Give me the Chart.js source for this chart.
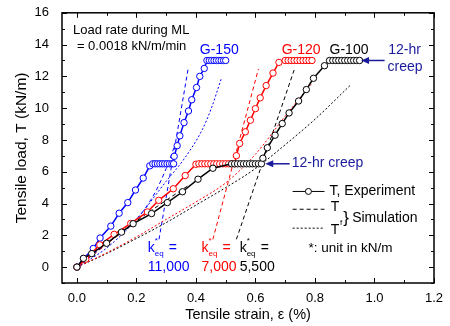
<!DOCTYPE html>
<html>
<head>
<meta charset="utf-8">
<script src="https://cdn.jsdelivr.net/npm/chart.js@4"></script>
<style>
  html, body { margin: 0; padding: 0; background: #fff; }
  #wrap { width: 450px; height: 326px; }
</style>
</head>
<body>
<div id="wrap"><canvas id="grafico" width="450" height="326"></canvas></div>
<script>
// tick labels
const xTickVals = [0, 0.2, 0.4, 0.6, 0.8, 1.0, 1.2];
const yTickVals = [0, 2, 4, 6, 8, 10, 12, 14, 16];

// G-150 experiment
const g150X = [0, 0.023, 0.055, 0.078, 0.114, 0.142, 0.171, 0.197, 0.223, 0.245, 0.255, 0.263, 0.271, 0.279, 0.287, 0.295, 0.303, 0.311, 0.319, 0.325,
  0.327, 0.337, 0.346, 0.36, 0.375, 0.386, 0.402, 0.413, 0.428, 0.437, 0.445, 0.453, 0.461, 0.469, 0.477, 0.485, 0.493, 0.5];
const g150Y = [0, 0.54, 1.17, 1.83, 2.58, 3.39, 4.06, 4.85, 5.6, 6.37, 6.5, 6.5, 6.5, 6.5, 6.5, 6.5, 6.5, 6.5, 6.5, 6.5,
  6.97, 7.64, 8.26, 9.09, 9.82, 10.53, 11.3, 12.0, 12.5, 13, 13, 13, 13, 13, 13, 13, 13, 13];
// G-120 experiment
const g120X = [0, 0.03, 0.077, 0.125, 0.181, 0.237, 0.275, 0.324, 0.364, 0.4, 0.41, 0.42, 0.43, 0.44, 0.45, 0.46, 0.47, 0.48, 0.49, 0.5, 0.51, 0.52, 0.53,
  0.536, 0.547, 0.566, 0.583, 0.6, 0.616, 0.636, 0.659, 0.679, 0.7, 0.71, 0.72, 0.73, 0.74, 0.75, 0.76, 0.77, 0.78, 0.79];
const g120Y = [0, 0.5, 1.4, 2.06, 2.75, 3.47, 4.2, 4.93, 5.76, 6.47, 6.5, 6.5, 6.5, 6.5, 6.5, 6.5, 6.5, 6.5, 6.5, 6.5, 6.5, 6.5, 6.5,
  7.01, 7.78, 8.51, 9.24, 9.97, 10.65, 11.42, 12.21, 12.88, 13, 13, 13, 13, 13, 13, 13, 13, 13, 13];
// G-100 experiment
const g100X = [0, 0.022, 0.05, 0.1, 0.15, 0.189, 0.251, 0.304, 0.355, 0.407, 0.457, 0.52, 0.53, 0.54, 0.55, 0.56, 0.57, 0.58, 0.59, 0.6, 0.61, 0.62,
  0.625, 0.64, 0.666, 0.69, 0.713, 0.745, 0.771, 0.795, 0.832, 0.849, 0.86, 0.87, 0.88, 0.89, 0.9, 0.91, 0.92, 0.93, 0.94, 0.95];
const g100Y = [0, 0.55, 0.85, 1.5, 2.2, 2.73, 3.37, 4.06, 4.74, 5.53, 6.22, 6.5, 6.5, 6.5, 6.5, 6.5, 6.5, 6.5, 6.5, 6.5, 6.5, 6.5,
  6.85, 7.51, 8.3, 9.03, 9.7, 10.45, 11.17, 11.88, 12.67, 13, 13, 13, 13, 13, 13, 13, 13, 13, 13, 13];

// simulation T (dashed)
const simT150X = [0, 0.1, 0.2, 0.26, 0.3, 0.33];
const simT150Y = [0, 1.5, 3.0, 4.6, 6.2, 7.7];
const simT120X = [0, 0.1, 0.2];
const simT120Y = [0, 1.45, 2.9];
const simT100X = [0, 0.1, 0.2, 0.3, 0.38];
const simT100Y = [0, 1.45, 2.9, 4.2, 5.2];
// k_eq lines (dashed)
const keq150X = [0.276, 0.374];
const keq150Y = [1.75, 12.5];
const keq120X = [0.457, 0.61];
const keq120Y = [1.75, 12.46];
const keq100X = [0.536, 0.73];
const keq100Y = [1.75, 12.4];
// simulation T^f (dotted)
const tf150X = [0, 0.1, 0.2, 0.3, 0.36, 0.42, 0.45, 0.486];
const tf150Y = [0, 1.2, 3.0, 5.4, 6.8, 8.6, 9.9, 11.9];
const tf120X = [0, 0.1, 0.2, 0.3, 0.4, 0.5, 0.6, 0.7, 0.787];
const tf120Y = [0, 0.9, 1.9, 3.0, 4.1, 5.3, 7.1, 9.5, 11.5];
const tf100X = [0, 0.1, 0.2, 0.3, 0.4, 0.5, 0.6, 0.7, 0.8, 0.922];
const tf100Y = [0, 0.85, 1.8, 2.8, 3.9, 5.0, 6.2, 7.7, 9.3, 11.5];

const azul = '#0000ff';
const rojo = '#ff0000';
const negro = '#000000';
const marino = '#1a1a9c';
const fuente = 'Arial, "Liberation Sans", sans-serif';

const pares = (xs, ys) => xs.map((v, i) => ({ x: v, y: ys[i] }));

function experimento(xs, ys, color) {
    return {
        data: pares(xs, ys), borderColor: color, borderWidth: 1.5,
        pointRadius: 3.2, pointBorderWidth: 1, pointBackgroundColor: '#fff', pointBorderColor: color,
        showLine: true, order: 1
    };
}
function simulado(xs, ys, color, dash, curva) {
    return {
        data: pares(xs, ys), borderColor: color, borderWidth: 1, borderDash: dash,
        pointRadius: 0, showLine: true, order: 2,
        cubicInterpolationMode: curva ? 'monotone' : 'default'
    };
}

const datasets = [
    simulado(tf150X, tf150Y, azul, [2, 2], true),
    simulado(tf120X, tf120Y, rojo, [2, 2], true),
    simulado(tf100X, tf100Y, negro, [2, 2], true),
    simulado(simT150X, simT150Y, azul, [4, 3], true),
    simulado(simT120X, simT120Y, rojo, [4, 3], false),
    simulado(simT100X, simT100Y, negro, [4, 3], true),
    simulado(keq150X, keq150Y, azul, [4, 3], false),
    simulado(keq120X, keq120Y, rojo, [4, 3], false),
    simulado(keq100X, keq100Y, negro, [4, 3], false),
    experimento(g100X, g100Y, negro),
    experimento(g120X, g120Y, rojo),
    experimento(g150X, g150Y, azul)
];

// frame, inward ticks, annotations and legend
const decoracion = {
    id: 'decoracion',
    afterDatasetsDraw(chart) {
        const { ctx, chartArea: a, scales: { x, y } } = chart;
        const px = v => x.getPixelForValue(v);
        const py = v => y.getPixelForValue(v);
        ctx.save();
        ctx.strokeStyle = '#000';
        ctx.lineWidth = 1.5;
        ctx.strokeRect(a.left, a.top, a.right - a.left, a.bottom - a.top);
        ctx.lineWidth = 1;
        ctx.beginPath();
        for (let i = 0; i <= 12; i++) {
            const len = i % 2 === 0 ? 5 : 3;
            const p = Math.round(px(i / 10)) + 0.5;
            ctx.moveTo(p, a.bottom); ctx.lineTo(p, a.bottom - len);
            ctx.moveTo(p, a.top); ctx.lineTo(p, a.top + len);
        }
        for (let v = -1; v <= 16; v += 1) {
            const len = v % 2 === 0 ? 5 : 3;
            const p = Math.round(py(v)) + 0.5;
            ctx.moveTo(a.left, p); ctx.lineTo(a.left + len, p);
            ctx.moveTo(a.right, p); ctx.lineTo(a.right - len, p);
        }
        ctx.stroke();

        ctx.textBaseline = 'middle';
        const texto = (s, dx, dy, color, size, align) => {
            ctx.fillStyle = color;
            ctx.font = size + 'px ' + fuente;
            ctx.textAlign = align || 'left';
            ctx.fillText(s, px(dx), py(dy));
            return ctx.measureText(s).width;
        };
        const flecha = (x1, y1, x2, y2) => {
            const ax = px(x1), ay = py(y1), bx = px(x2), by = py(y2);
            ctx.strokeStyle = marino; ctx.fillStyle = marino; ctx.lineWidth = 1.5;
            ctx.beginPath(); ctx.moveTo(ax, ay); ctx.lineTo(bx + 6, by); ctx.stroke();
            ctx.beginPath(); ctx.moveTo(bx, by); ctx.lineTo(bx + 8, by - 3.5); ctx.lineTo(bx + 8, by + 3.5); ctx.closePath(); ctx.fill();
        };
        const keq = (dx, color, valor) => {
            const w = texto('k', dx, 1.2, color, 14);
            const x0 = px(dx) + w;
            ctx.font = '8px ' + fuente;
            ctx.fillText('*', x0, py(1.2) - 7);
            ctx.fillText('eq', x0, py(1.2) + 6);
            ctx.font = '14px ' + fuente;
            ctx.fillText('=', x0 + 14, py(1.2));
            texto(valor, dx, 0, color, 14);
        };

        texto('Load rate during ML', -0.013, 14.87, '#000', 13);
        texto('= 0.0018 kN/m/min', 0.0, 13.88, '#000', 13);
        texto('G-150', 0.413, 13.62, azul, 14);
        texto('G-120', 0.688, 13.62, rojo, 14);
        texto('G-100', 0.849, 13.62, negro, 14);
        texto('12-hr', 1.046, 13.62, marino, 14);
        texto('creep', 1.044, 12.55, marino, 14);
        flecha(1.034, 13.0, 0.955, 13.0);
        texto('12-hr creep', 0.722, 6.53, marino, 14);
        flecha(0.715, 6.5, 0.633, 6.5);

        // legend
        ctx.strokeStyle = '#000'; ctx.lineWidth = 1;
        ctx.beginPath(); ctx.moveTo(px(0.725), py(4.76)); ctx.lineTo(px(0.832), py(4.76)); ctx.stroke();
        ctx.fillStyle = '#fff';
        ctx.beginPath(); ctx.arc(px(0.778), py(4.76), 3, 0, Math.PI * 2); ctx.fill(); ctx.stroke();
        texto('T, Experiment', 0.849, 4.76, '#000', 14);
        ctx.setLineDash([4, 3]);
        ctx.beginPath(); ctx.moveTo(px(0.725), py(3.64)); ctx.lineTo(px(0.832), py(3.64)); ctx.stroke();
        ctx.setLineDash([2, 2]);
        ctx.beginPath(); ctx.moveTo(px(0.725), py(2.45)); ctx.lineTo(px(0.832), py(2.45)); ctx.stroke();
        ctx.setLineDash([]);
        texto('T', 0.853, 3.75, '#000', 14);
        texto('T', 0.853, 2.35, '#000', 14);
        texto('f', 0.884, 2.8, '#000', 8);
        texto('}', 0.895, 3.05, '#000', 17);
        texto('Simulation', 0.925, 3.05, '#000', 14);
        texto('*: unit in kN/m', 0.778, 1.2, '#000', 13.5);

        keq(0.238, azul, '11,000');
        keq(0.419, rojo, '7,000');
        keq(0.547, negro, '5,500');
        ctx.restore();
    }
};

const ctx = document.getElementById('grafico').getContext('2d');
const miGrafico = new Chart(ctx, {
    type: 'scatter',
    data: { datasets: datasets },
    options: {
        responsive: false,
        animation: false,
        layout: { padding: { top: 10, right: 16, left: 0, bottom: 0 } },
        plugins: { legend: { display: false }, tooltip: { enabled: false } },
        scales: {
            x: {
                type: 'linear', min: -0.05, max: 1.2,
                afterBuildTicks: s => { s.ticks = xTickVals.map(v => ({ value: v })); },
                afterFit: s => { s.height = 43; },
                grid: { display: false },
                border: { display: false },
                ticks: { color: '#000', font: { size: 13, family: fuente }, padding: 0, callback: v => v.toFixed(1), maxRotation: 0 },
                title: { display: true, text: 'Tensile strain, ε (%)', color: '#000', font: { size: 14.5, family: fuente }, padding: { top: 2, bottom: 2 } }
            },
            y: {
                type: 'linear', min: -1, max: 16,
                afterBuildTicks: s => { s.ticks = yTickVals.map(v => ({ value: v })); },
                afterFit: s => { s.width = 62; },
                grid: { display: false },
                border: { display: false },
                ticks: { color: '#000', font: { size: 13, family: fuente }, padding: 5 },
                title: { display: true, text: 'Tensile load, T (kN/m)', color: '#000', font: { size: 15.5, family: fuente }, padding: { top: 12, bottom: 4 } }
            }
        }
    },
    plugins: [decoracion]
});
</script>
</body>
</html>
